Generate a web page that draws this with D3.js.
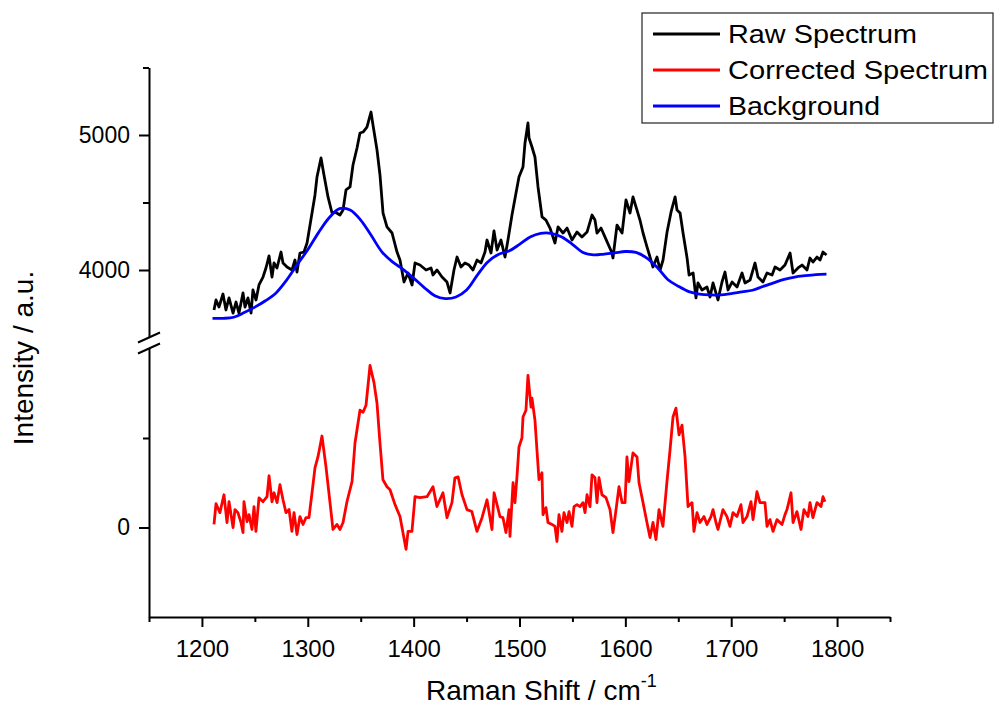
<!DOCTYPE html>
<html>
<head>
<meta charset="utf-8">
<script src="https://cdn.jsdelivr.net/npm/d3@7"></script>
<style>
  html, body { margin: 0; padding: 0; background: #fff; }
  svg { display: block; font-family: "Liberation Sans", Arial, sans-serif; }
</style>
</head>
<body>
<svg id="chart" width="995" height="705"></svg>
<script>
// ---------------- data ----------------
const rawShift = [1211.4,1213.3,1216.1,1219.9,1222.7,1225.6,1229.4,1232.2,1235.0,1238.8,1240.7,1243.5,1246.4,1248.2,1251.1,1253.9,1257.7,1260.5,1263.4,1266.2,1268.1,1270.9,1274.7,1276.6,1280.4,1285.1,1287.9,1289.8,1292.6,1296.4,1299.3,1304.0,1306.8,1308.7,1312.5,1315.3,1319.1,1322.9,1325.7,1330.4,1333.3,1336.1,1339.9,1342.7,1346.5,1349.3,1352.2,1355.9,1359.7,1361.6,1365.4,1368.2,1371.1,1374.8,1379.6,1384.3,1387.1,1390.9,1394.7,1398.5,1401.3,1406.0,1411.7,1416.4,1418.3,1422.1,1426.8,1431.5,1434.4,1438.1,1441.0,1444.7,1448.5,1452.3,1456.1,1459.9,1463.6,1467.4,1469.3,1473.1,1475.9,1478.8,1482.5,1486.3,1489.1,1492.9,1496.7,1499.5,1503.3,1505.2,1508.0,1509.0,1511.8,1514.6,1517.5,1521.3,1525.0,1528.8,1533.5,1536.4,1541.1,1544.9,1549.6,1554.3,1559.0,1563.8,1568.5,1571.3,1573.2,1577.0,1580.8,1587.4,1588.3,1592.1,1596.9,1600.6,1604.4,1607.2,1611.0,1613.8,1616.7,1620.5,1623.3,1626.1,1629.9,1632.8,1635.6,1639.4,1643.2,1647.0,1648.8,1651.7,1654.5,1658.3,1660.2,1664.0,1666.7,1668.6,1672.4,1677.1,1680.0,1682.8,1687.5,1691.3,1694.1,1697.0,1700.8,1705.5,1710.2,1713.0,1717.8,1722.5,1725.3,1730.0,1733.8,1738.6,1741.4,1746.1,1750.8,1755.6,1758.4,1763.1,1766.9,1771.6,1774.4,1777.2,1781.0,1783.9,1786.7,1790.0];
const rawIntensity = [3704,3778,3726,3822,3704,3793,3681,3763,3681,3830,3726,3793,3681,3852,3778,3889,3948,4015,4104,3948,4052,4015,4133,4052,4022,4000,4074,3985,4126,4133,4200,4422,4556,4689,4830,4704,4541,4422,4430,4407,4444,4593,4615,4778,4904,5015,5022,5059,5170,5074,4889,4704,4422,4319,4274,4133,4074,3911,3978,3889,4052,4037,4000,4015,3963,4000,3948,3911,3830,4000,4096,4022,4052,4037,4000,4074,4052,4133,4222,4126,4290,4148,4222,4096,4222,4407,4570,4689,4763,4941,5089,4978,4911,4837,4615,4393,4370,4311,4200,4319,4274,4311,4222,4281,4244,4281,4407,4370,4274,4311,4244,4126,4089,4333,4274,4519,4422,4541,4444,4370,4274,4170,4096,4022,4096,4000,4074,4281,4430,4541,4444,4422,4274,4089,3963,3978,3793,3904,3852,3874,3800,3904,3778,3911,3985,3852,3911,3874,3978,3904,3926,4052,3948,3911,3978,3963,4022,4000,4037,4126,3978,4015,4037,4000,4089,4059,4096,4074,4133,4111];

const bgShift = [1210,1220,1230,1240,1250,1260,1270,1280,1290,1300,1310,1320,1330,1340,1350,1360,1370,1380,1390,1400,1410,1420,1430,1440,1450,1460,1470,1480,1490,1500,1510,1520,1530,1540,1550,1560,1570,1580,1590,1600,1610,1620,1630,1640,1650,1660,1670,1680,1690,1700,1710,1720,1730,1740,1750,1760,1770,1780,1790];
const bgIntensity = [3642,3642,3650,3685,3725,3772,3830,3925,4040,4150,4275,4385,4455,4445,4370,4255,4135,4060,4005,3940,3870,3810,3788,3800,3852,3960,4060,4115,4140,4190,4245,4272,4272,4245,4190,4130,4112,4118,4127,4137,4130,4090,4020,3930,3880,3840,3822,3815,3815,3825,3838,3850,3878,3905,3930,3948,3958,3966,3970];

const corShift = [1211.4,1213.3,1217.0,1220.8,1223.7,1225.6,1229.4,1231.2,1234.0,1236.9,1238.8,1239.7,1242.6,1244.5,1247.3,1249.2,1251.0,1253.9,1257.7,1261.5,1263.4,1266.2,1268.1,1271.0,1273.7,1276.6,1279.4,1282.3,1285.0,1287.0,1289.8,1292.6,1295.5,1298.3,1301.1,1304.0,1306.8,1309.6,1313.4,1317.2,1321.0,1323.8,1327.6,1330.4,1333.3,1337.0,1341.8,1344.6,1349.3,1352.2,1355.0,1358.8,1362.5,1365.4,1368.2,1371.0,1374.8,1377.7,1382.4,1387.1,1392.8,1394.7,1398.4,1401.3,1406.0,1412.6,1418.3,1422.0,1427.7,1431.5,1436.2,1439.0,1442.0,1445.7,1450.4,1455.0,1459.8,1464.6,1469.3,1474.0,1476.0,1481.6,1484.4,1487.2,1490.1,1491.0,1493.9,1495.7,1497.6,1499.5,1502.3,1503.3,1506.1,1508.0,1510.9,1511.8,1514.6,1516.5,1518.4,1521.2,1522.2,1525.0,1526.9,1530.7,1533.5,1535.4,1537.3,1540.1,1542.0,1544.9,1546.8,1549.6,1551.5,1554.3,1557.1,1560.0,1561.9,1563.8,1566.6,1568.5,1571.3,1573.2,1575.1,1577.9,1581.7,1585.5,1588.3,1591.2,1594.0,1596.9,1599.7,1601.5,1603.4,1607.2,1611.0,1612.9,1616.7,1620.4,1623.3,1626.1,1628.9,1631.8,1635.5,1639.3,1642.2,1645.0,1647.8,1650.7,1653.5,1656.4,1659.2,1663.0,1664.8,1667.7,1670.5,1674.3,1677.1,1680.9,1682.8,1685.6,1687.5,1692.2,1696.0,1698.8,1701.7,1705.4,1709.2,1711.1,1714.9,1718.7,1720.6,1724.3,1727.2,1731.9,1733.8,1736.6,1739.5,1743.2,1748.0,1750.8,1752.7,1756.5,1758.4,1762.1,1765.9,1768.7,1772.5,1774.4,1777.2,1781.0,1784.8,1786.7,1788.6];
const corIntensity = [17,133,83,183,28,144,0,100,83,28,-28,144,33,72,-11,117,-22,166,144,172,289,144,194,139,239,155,83,100,-22,83,-39,61,17,55,55,194,333,394,511,339,139,-11,17,-11,28,144,256,472,655,644,683,905,811,694,472,267,228,211,128,61,-122,-22,-22,172,167,172,228,117,194,55,139,278,283,183,100,89,-22,55,155,-11,194,60,55,-28,100,-50,250,139,283,450,500,617,655,850,672,722,600,433,267,306,72,111,28,17,6,-78,72,-22,83,28,89,6,117,128,117,139,83,183,117,294,278,139,278,183,167,100,-28,100,228,139,139,394,256,417,394,250,139,28,-56,28,-67,100,6,256,433,617,667,517,572,394,117,139,-22,83,28,61,17,61,100,28,-11,100,61,6,83,61,128,28,61,144,44,200,139,139,6,44,-22,44,17,72,100,194,28,89,-11,100,61,139,55,139,117,172,144];

const xMajorTicks = [1200,1300,1400,1500,1600,1700,1800];
const xMinorTicks = [1150,1250,1350,1450,1550,1650,1750,1850];
const yUpperMajor = [4000,5000];
const yUpperMinor = [4500,5500];
const yLowerMajor = [0];
const yLowerMinor = [500];

const seriesNames = ["Raw Spectrum","Corrected Spectrum","Background"];
const seriesColors = ["#000000","#ff0000","#0000ff"];

// ---------------- drawing ----------------
const svg = d3.select("#chart");
const FONT = '"Liberation Sans", Arial, sans-serif';

const x = d3.scaleLinear().domain([1150,1850]).range([149,890]);
const yUp = d3.scaleLinear().domain([3500,5500]).range([337.5,67.5]);
const yLo = d3.scaleLinear().domain([-500,1000]).range([617,348.5]);

const axisX0 = 149, axisY0 = 617;
const LW = 2.8;

// lines
const lineUp = d3.line().x(d => x(d[0])).y(d => yUp(d[1]));
const lineLo = d3.line().x(d => x(d[0])).y(d => yLo(d[1]));
const lineBg = d3.line().x(d => x(d[0])).y(d => yUp(d[1])).curve(d3.curveCatmullRom.alpha(0.5));

const rawData = rawShift.map((s,i) => [s, rawIntensity[i]]);
const bgData = bgShift.map((s,i) => [s, bgIntensity[i]]);
const corData = corShift.map((s,i) => [s, corIntensity[i]]);

svg.append("path").datum(rawData).attr("d", lineUp)
  .attr("fill","none").attr("stroke",seriesColors[0]).attr("stroke-width",LW).attr("stroke-linejoin","round");
svg.append("path").datum(bgData).attr("d", lineBg)
  .attr("fill","none").attr("stroke",seriesColors[2]).attr("stroke-width",LW);
svg.append("path").datum(corData).attr("d", lineLo)
  .attr("fill","none").attr("stroke",seriesColors[1]).attr("stroke-width",LW).attr("stroke-linejoin","round");

// x axis
const gx = svg.append("g").attr("transform", `translate(0,${axisY0})`);
gx.call(d3.axisBottom(x).tickValues(xMajorTicks).tickSize(10).tickSizeOuter(0).tickPadding(13).tickFormat(d3.format("d")));
const gxm = svg.append("g").attr("transform", `translate(0,${axisY0})`);
gxm.call(d3.axisBottom(x).tickValues(xMinorTicks).tickSize(5).tickSizeOuter(0).tickFormat(""));
gxm.select(".domain").remove();

// y axis upper
const gyu = svg.append("g").attr("transform", `translate(${axisX0},0)`);
gyu.call(d3.axisLeft(yUp).tickValues(yUpperMajor).tickSize(10).tickSizeOuter(0).tickPadding(9).tickFormat(d3.format("d")));
const gyum = svg.append("g").attr("transform", `translate(${axisX0},0)`);
gyum.call(d3.axisLeft(yUp).tickValues(yUpperMinor).tickSize(6).tickSizeOuter(0).tickFormat(""));
gyum.select(".domain").remove();

// y axis lower
const gyl = svg.append("g").attr("transform", `translate(${axisX0},0)`);
gyl.call(d3.axisLeft(yLo).tickValues(yLowerMajor).tickSize(10).tickSizeOuter(0).tickPadding(9).tickFormat(d3.format("d")));
const gylm = svg.append("g").attr("transform", `translate(${axisX0},0)`);
gylm.call(d3.axisLeft(yLo).tickValues(yLowerMinor).tickSize(6).tickSizeOuter(0).tickFormat(""));
gylm.select(".domain").remove();

svg.selectAll(".domain").attr("stroke","#000").attr("stroke-width",2);
svg.selectAll(".tick line").attr("stroke","#000").attr("stroke-width",2);
gx.selectAll(".tick text").attr("font-family",FONT).attr("font-size",24).attr("fill","#000");
gyu.selectAll(".tick text").attr("font-family",FONT).attr("font-size",23).attr("fill","#000");
gyl.selectAll(".tick text").attr("font-family",FONT).attr("font-size",23).attr("fill","#000");

// axis break marks
[yUp.range()[0], yLo.range()[1]].forEach(yb => {
  svg.append("line")
    .attr("x1", axisX0 - 11).attr("y1", yb + 5)
    .attr("x2", axisX0 + 11).attr("y2", yb - 5)
    .attr("stroke","#000").attr("stroke-width",2);
});

// axis titles
const xt = svg.append("text").attr("x",426).attr("y",700)
  .attr("font-family",FONT).attr("font-size",28).attr("fill","#000");
xt.append("tspan").text("Raman Shift / cm");
xt.append("tspan").attr("dy",-13).attr("font-size",18).text("-1");

svg.append("text").attr("transform","translate(33,358) rotate(-90)")
  .attr("text-anchor","middle").attr("font-family",FONT).attr("font-size",28).attr("fill","#000")
  .text("Intensity / a.u.");

// legend
const lg = svg.append("g");
lg.append("rect").attr("x",642).attr("y",13).attr("width",351).attr("height",110)
  .attr("fill","#fff").attr("stroke","#333").attr("stroke-width",1.3);
const legendWidths = [189,260,152];
seriesNames.forEach((name,i) => {
  const cy = 34 + i*36;
  lg.append("line").attr("x1",653).attr("x2",720).attr("y1",cy).attr("y2",cy)
    .attr("stroke",seriesColors[i]).attr("stroke-width",LW);
  lg.append("text").attr("x",728).attr("y",cy+9)
    .attr("font-family",FONT).attr("font-size",25).attr("fill","#000")
    .attr("textLength",legendWidths[i]).attr("lengthAdjust","spacingAndGlyphs")
    .text(name);
});
</script>
</body>
</html>
